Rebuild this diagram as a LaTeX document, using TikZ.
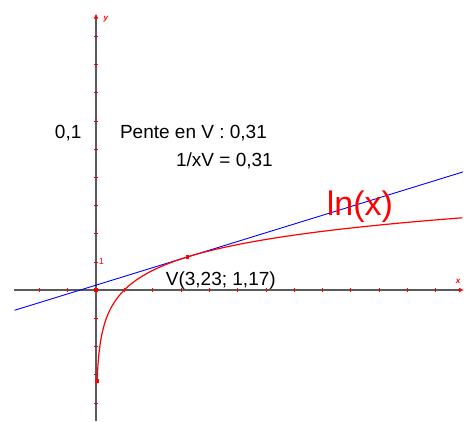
\documentclass[tikz,border=0pt]{standalone}
\usepackage{fontspec}
\setmainfont{Liberation Sans}
\usetikzlibrary{arrows.meta}
\definecolor{axGray}{HTML}{5A5A5A}
\definecolor{lnRed}{HTML}{FF0000}
\definecolor{tgBlue}{HTML}{0000FF}

\begin{document}
\begin{tikzpicture}[
  x=28.3pt,y=28.2pt,
  font=\fontsize{19}{22}\selectfont,
  every node/.style={inner sep=0pt,outer sep=0pt},
  lbl/.style={anchor=base west},
  axis/.style={draw=axGray,line width=1.1pt,-{Latex[length=5pt,width=5pt,color=lnRed]}},
  tick/.style={draw=lnRed,line width=0.6pt},
  dotpt/.style={fill=lnRed,minimum size=3.6pt,inner sep=0pt},
  small/.style={text=lnRed,font=\fontsize{9}{10}\selectfont}
]
\path[use as bounding box] (-96pt,-131pt) rectangle (372pt,290pt);
% axes
\draw[axis] (-2.9,0) -- (13.0,0);
\draw[axis] (0,-4.65) -- (0,9.8);
\foreach \i in {-2,-1,1,2,...,12}
  \draw[tick] (\i,-0.06) -- (\i,0.06);
\foreach \j in {-4,-3,-2,-1,1,2,...,9}
  \draw[tick] (-0.06,\j) -- (0.06,\j);
\node[small,anchor=base,font=\bfseries\fontsize{8}{9}\selectfont] (xlab) at (12.8,0.22) {\textit{x}};
\node[small,anchor=base,font=\bfseries\fontsize{8}{9}\selectfont] (ylab) at (0.35,9.55) {\textit{y}};
\node[small,lbl] (one) at (0.1,0.9) {1};
% tangent and curve
\draw[tgBlue,line width=0.9pt] (-2.88,{0.172-0.3096*2.88}) -- (12.97,{0.172+0.3096*12.97});
\draw[lnRed,line width=1.2pt] plot[domain=-3.23:2.562,samples=200,smooth] ({exp(\x)},{\x});
% points
\node[dotpt] (O) at (0,0) {};
\node[dotpt] (V) at (3.23,1.172) {};
\node[dotpt] (S) at ({exp(-3.23)},-3.23) {};
% texts
\node[lbl] (scale) at (-1.45,5.355) {0,1};
\node[lbl] (pente) at (0.85,5.355) {Pente en V : 0,31};
\node[lbl] (inv) at (2.83,4.37) {1/xV = 0,31};
\node[lbl,text=lnRed,font=\fontsize{34}{38}\selectfont] (lnx) at (8.16,2.63) {ln(x)};
\node[lbl] (vlab) at (2.47,0.177) {V(3,23; 1,17)};
\end{tikzpicture}
\end{document}
